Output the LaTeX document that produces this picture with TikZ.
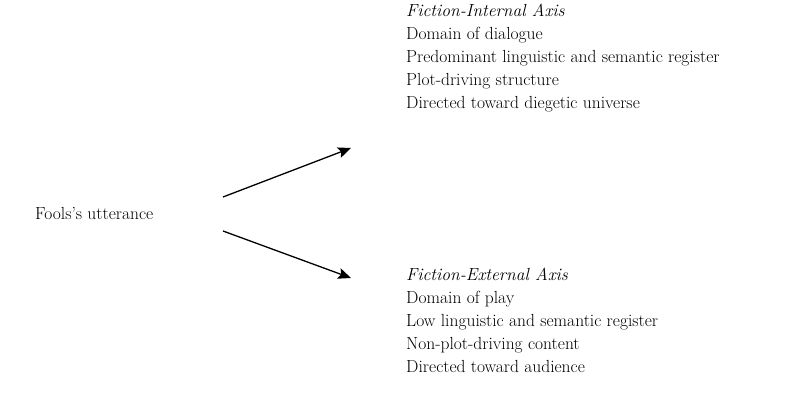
\documentclass[tikz,border=0pt]{standalone}
\usetikzlibrary{arrows.meta,positioning}
\tikzset{
  axistext/.style={anchor=north west,align=left,inner sep=0pt,font=\fontsize{17.5}{23}\selectfont},
  axisarrow/.style={-{Stealth[length=13pt,width=11pt,inset=2.5pt]},line width=1.3pt}
}
\begin{document}
\begin{tikzpicture}[x=1pt,y=1pt]
\useasboundingbox (0,0) rectangle (808,394);

\node[anchor=west,inner sep=0pt,font=\fontsize{17.5}{23}\selectfont] (utt) at (35,181) {Fools's utterance};

\node[axistext] (internal) at (406,390) {\textit{Fiction-Internal Axis}\\
Domain of dialogue\\
Predominant linguistic and semantic register\\
Plot-driving structure\\
Directed toward diegetic universe};

\node[axistext] (external) at (406,126) {\textit{Fiction-External Axis}\\
Domain of play\\
Low linguistic and semantic register\\
Non-plot-driving content\\
Directed toward audience};

\coordinate (upstart) at (223,197);
\coordinate (upend) at (351,246);
\coordinate (downstart) at (223,163);
\coordinate (downend) at (351,116);

\draw[axisarrow] (upstart) -- (upend);
\draw[axisarrow] (downstart) -- (downend);
\end{tikzpicture}
\end{document}
